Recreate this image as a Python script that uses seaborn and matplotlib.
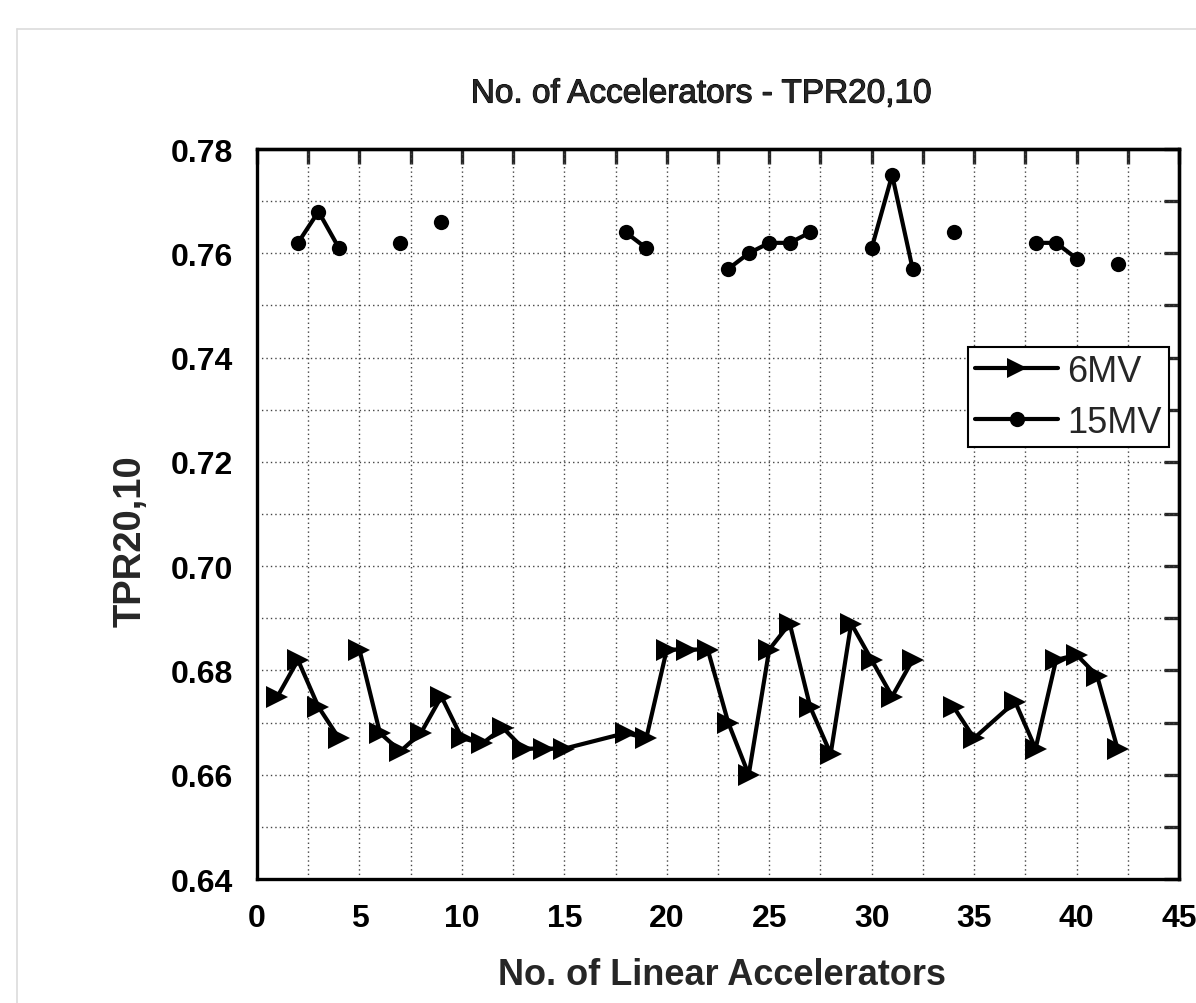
import numpy as np
import pandas as pd
import matplotlib
matplotlib.use("Agg")
import matplotlib.pyplot as plt
import matplotlib.patheffects as pe
from matplotlib.lines import Line2D
from matplotlib.ticker import MultipleLocator
import seaborn as sns

# ---------------- data ----------------
x_6mv = [1, 2, 3, 4, np.nan, 5, 6, 7, 8, 9, 10, 11, 12, 13, 14, 15, 18, 19, 20, 21, 22,
         23, 24, 25, 26, 27, 28, 29, 30, 31, 32, np.nan, 34, 35, 37, 38, 39, 40, 41, 42]
y_6mv = [0.675, 0.682, 0.673, 0.667, np.nan, 0.684, 0.668, 0.6645, 0.668, 0.675, 0.667,
         0.666, 0.669, 0.665, 0.665, 0.665, 0.668, 0.667, 0.684, 0.684, 0.684,
         0.670, 0.660, 0.684, 0.689, 0.673, 0.664, 0.689, 0.682, 0.675, 0.682, np.nan,
         0.673, 0.667, 0.674, 0.665, 0.682, 0.683, 0.679, 0.665]

x_15mv = list(range(1, 43))
y_15mv = [np.nan, 0.762, 0.768, 0.761, np.nan, np.nan, 0.762, np.nan, 0.766, np.nan,
          np.nan, np.nan, np.nan, np.nan, np.nan, np.nan, np.nan, 0.764, 0.761, np.nan,
          np.nan, np.nan, 0.757, 0.760, 0.762, 0.762, 0.764, np.nan, np.nan, 0.761,
          0.775, 0.757, np.nan, 0.764, np.nan, np.nan, np.nan, 0.762, 0.762, 0.759,
          np.nan, 0.758]

title = "No. of Accelerators - TPR20,10"
xlabel = "No. of Linear Accelerators"
ylabel = "TPR20,10"
series_names = ["6MV", "15MV"]


def to_segments(xs, ys, name):
    df = pd.DataFrame({"x": xs, "y": ys})
    gap = df["y"].isna()
    df["segment"] = gap.cumsum()
    df = df[~gap].copy()
    df["series"] = name
    return df


df6 = to_segments(x_6mv, y_6mv, series_names[0])
df15 = to_segments(x_15mv, y_15mv, series_names[1])

# ---------------- style ----------------
sns.set_theme(style="white")
plt.rcParams["font.family"] = ["Liberation Sans", "DejaVu Sans"]

fig = plt.figure(figsize=(11.96, 10.04), dpi=100)
ax = fig.add_axes([257 / 1196, 1 - 880 / 1004, (1179 - 257) / 1196, (880 - 150) / 1004])

# light frame around the figure (top/left edges visible)
fig.add_artist(Line2D([17 / 1196, 1.0], [1 - 30 / 1004, 1 - 30 / 1004],
                      transform=fig.transFigure, color="#dcdcdc", lw=1.2))
fig.add_artist(Line2D([17 / 1196, 17 / 1196], [0.0, 1 - 30 / 1004],
                      transform=fig.transFigure, color="#dcdcdc", lw=1.2))

line_kw = dict(color="black", linewidth=3.0, estimator=None, legend=False,
               sort=False, ax=ax)
sns.lineplot(data=df6, x="x", y="y", units="segment", marker=">",
             markersize=15.5, markeredgewidth=0, **line_kw)
sns.lineplot(data=df15, x="x", y="y", units="segment", marker="o",
             markersize=11, markeredgewidth=0, **line_kw)

ax.set_xlim(0, 45)
ax.set_ylim(0.64, 0.78)
ax.xaxis.set_major_locator(MultipleLocator(5))
ax.xaxis.set_minor_locator(MultipleLocator(2.5))
ax.yaxis.set_minor_locator(MultipleLocator(0.01))
yt = np.arange(0.64, 0.7801, 0.02)
ax.set_yticks(yt)
ax.set_yticklabels([f"{v:.2f}" for v in yt])

ax.grid(True, which="both", color="#444444", linestyle=(0, (1, 2.2)), linewidth=1.0)
ax.set_axisbelow(True)

for s in ax.spines.values():
    s.set_linewidth(2.4)
    s.set_color("black")

ax.tick_params(axis="both", which="major", direction="out", length=10, width=2.4,
               labelsize=23, pad=7, colors="black")
ax.tick_params(axis="both", which="minor", direction="out", length=6, width=2.2)
for lab in ax.get_xticklabels() + ax.get_yticklabels():
    lab.set_fontweight("bold")

# top / right inward ticks (all at same length)
top = ax.secondary_xaxis("top")
top.xaxis.set_major_locator(MultipleLocator(2.5))
top.tick_params(direction="in", length=11, width=2.4, labeltop=False)
top.spines["top"].set_linewidth(2.4)
right = ax.secondary_yaxis("right")
right.yaxis.set_major_locator(MultipleLocator(0.01))
right.tick_params(direction="in", length=11, width=2.4, labelright=False)
right.spines["right"].set_linewidth(2.4)

ax.set_xlabel("")
ax.set_ylabel("")
fig.text(722 / 1196, 1 - 976 / 1004, xlabel, ha="center", va="center",
         fontsize=26, fontweight="bold")
fig.text(131 / 1196, 1 - 541 / 1004, ylabel, ha="center", va="center",
         rotation=90, fontsize=27.5, fontweight="bold")
fig.text(701 / 1196, 1 - 95 / 1004, title, ha="center", va="center",
         fontsize=24,
         path_effects=[pe.withStroke(linewidth=0.8, foreground="black")])

handles = [Line2D([], [], color="black", lw=3, marker=">", markersize=15,
                  markeredgewidth=0),
           Line2D([], [], color="black", lw=3, marker="o", markersize=11,
                  markeredgewidth=0)]
leg = ax.legend(handles, series_names, loc="upper right",
                bbox_to_anchor=(0.989, 0.729), borderaxespad=0, fontsize=26,
                frameon=True, fancybox=False, handlelength=2.3, handletextpad=0.25,
                labelspacing=0.44, borderpad=0.2)
leg.get_frame().set_edgecolor("black")
leg.get_frame().set_linewidth(1.5)
leg.get_frame().set_alpha(1)

fig.savefig("out.png", dpi=100, facecolor="white")
